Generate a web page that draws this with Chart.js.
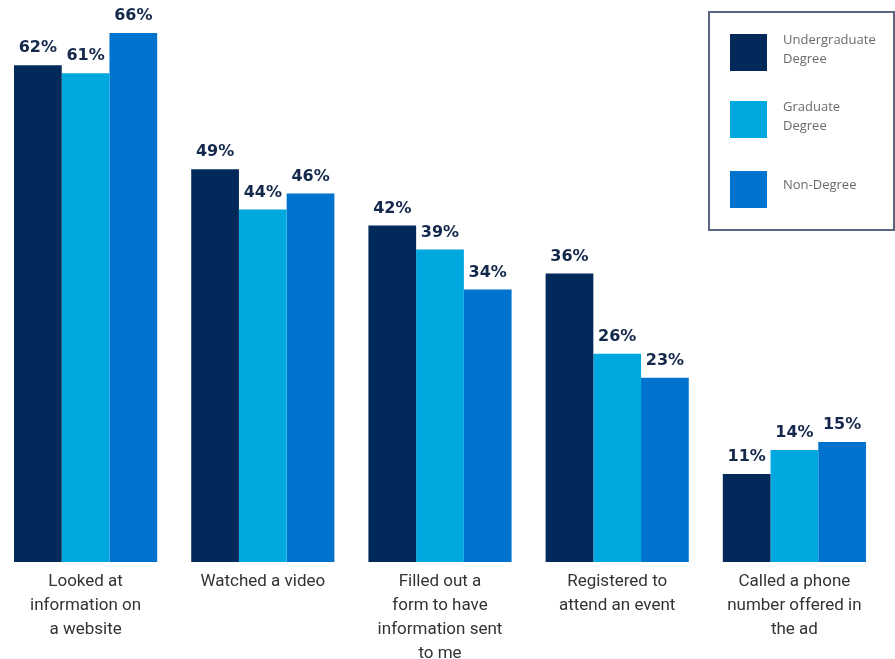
<!DOCTYPE html>
<html>
<head>
<meta charset="utf-8">
<script src="https://cdn.jsdelivr.net/npm/chart.js@4"></script>
<style>
    html, body { margin: 0; padding: 0; background: #fff; overflow: hidden; }
    #wrap { position: relative; width: 895px; height: 659px; overflow: hidden; }
    #chart { position: absolute; left: -3px; top: 0; }
    #legend {
        position: absolute; left: 708px; top: 11px; width: 183px; height: 216px;
        border: 2px solid #5b6780; box-sizing: content-box;
    }
    .item { position: absolute; left: 20px; }
    .item .sw { position: absolute; left: 0; top: 0; width: 37px; height: 37px; }
    .item .tx {
        position: absolute; left: 53px; top: 0; width: 120px;
        font-family: "Open Sans", sans-serif;
        font-size: 13px; line-height: 19px; color: #6a6a6a;
    }
</style>
</head>
<body>
<div id="wrap">
    <canvas id="chart" width="895" height="674"></canvas>
    <div id="legend"></div>
</div>
<script>
const categories = [
    ['Looked at', 'information on', 'a website'],
    ['Watched a video'],
    ['Filled out a', 'form to have', 'information sent', 'to me'],
    ['Registered to', 'attend an event'],
    ['Called a phone', 'number offered in', 'the ad'],
];
const seriesNames = [['Undergraduate', 'Degree'], ['Graduate', 'Degree'], ['Non-Degree']];
const undergraduate = [62, 49, 42, 36, 11];
const graduate = [61, 44, 39, 26, 14];
const nonDegree = [66, 46, 34, 23, 15];
const colors = ['#012a5a', '#00a8e0', '#0073cf'];

const valueLabels = {
    id: 'valueLabels',
    afterDatasetsDraw(chart) {
        const ctx = chart.ctx;
        ctx.save();
        ctx.font = 'bold 16px "DejaVu Sans", sans-serif';
        ctx.textAlign = 'center';
        ctx.textBaseline = 'middle';
        ctx.fillStyle = '#13284a';
        chart.data.datasets.forEach((ds, i) => {
            chart.getDatasetMeta(i).data.forEach((bar, j) => {
                ctx.fillText(ds.data[j] + '%', bar.x, bar.y - 17);
            });
        });
        ctx.restore();
    }
};

const datasets = [undergraduate, graduate, nonDegree].map((values, i) => ({
    label: seriesNames[i].join(' '),
    data: values,
    backgroundColor: colors[i],
    borderWidth: 0,
    categoryPercentage: 0.808,
    barPercentage: 1.0,
}));

// html legend
const legend = document.getElementById('legend');
const tops = [21, 88, 158];
seriesNames.forEach((name, i) => {
    const item = document.createElement('div');
    item.className = 'item';
    item.style.top = tops[i] + 'px';
    const sw = document.createElement('div');
    sw.className = 'sw';
    sw.style.background = colors[i];
    const tx = document.createElement('div');
    tx.className = 'tx';
    tx.style.top = name.length > 1 ? '-4px' : '4px';
    tx.innerHTML = name.join('<br>');
    item.appendChild(sw);
    item.appendChild(tx);
    legend.appendChild(item);
});

const ctx = document.getElementById('chart').getContext('2d');
new Chart(ctx, {
    type: 'bar',
    data: {
        labels: categories,
        datasets: datasets
    },
    options: {
        responsive: false,
        animation: false,
        layout: {
            padding: { left: 0, right: 9, top: 1, bottom: 0 }
        },
        plugins: {
            legend: { display: false },
            tooltip: { enabled: false },
        },
        scales: {
            x: {
                grid: { display: false, drawTicks: false },
                border: { display: false },
                ticks: {
                    padding: 8,
                    color: '#333',
                    maxRotation: 0,
                    autoSkip: false,
                    font: { family: 'Roboto, sans-serif', size: 17, lineHeight: 1.41 },
                }
            },
            y: {
                display: false,
                min: 0,
                max: 70,
            }
        }
    },
    plugins: [valueLabels]
});
</script>
</body>
</html>
